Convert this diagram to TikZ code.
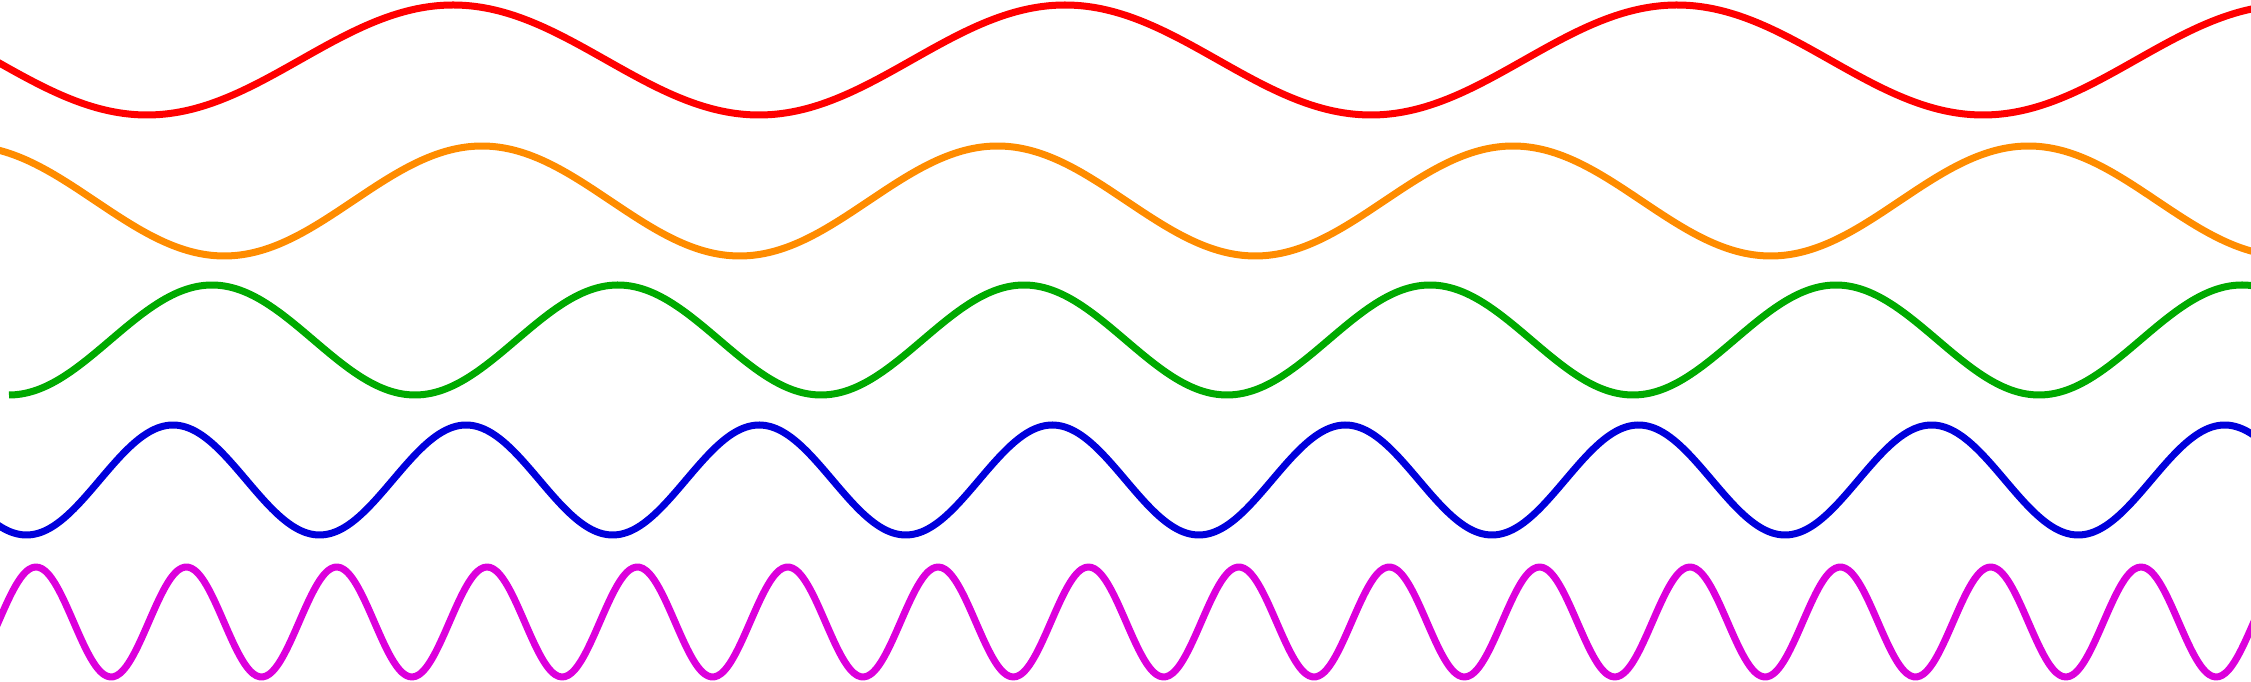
\documentclass[tikz,border=0pt]{standalone}
\definecolor{wred}{RGB}{255,0,0}
\definecolor{worange}{RGB}{255,140,0}
\definecolor{wgreen}{RGB}{0,170,0}
\definecolor{wblue}{RGB}{0,0,220}
\definecolor{wmagenta}{RGB}{220,0,220}
\tikzset{wave/.style={line width=0.07cm, line join=round}}
\begin{document}
\begin{tikzpicture}[x=0.01cm,y=0.01cm]
\useasboundingbox (0,0) rectangle (2251,682);
\clip (0,0) rectangle (2251,682);
% red: peaks at x=453, period 612, centre y=60 (from top), amplitude 55
\draw[wave, wred] plot[domain=-10:2261, samples=300, smooth]
  (\x, {682-(60-55*cos(((\x-453)/612)*360))});
% orange
\draw[wave, worange] plot[domain=-10:2261, samples=300, smooth]
  (\x, {682-(201-55*cos(((\x-482)/515.5)*360))});
% green (starts at a trough)
\draw[wave, wgreen] plot[domain=9:2261, samples=360, smooth]
  (\x, {682-(340-55*cos(((\x-212)/406)*360))});
% blue
\draw[wave, wblue] plot[domain=-10:2261, samples=420, smooth]
  (\x, {682-(480-55*cos(((\x-173)/293.1)*360))});
% magenta
\draw[wave, wmagenta] plot[domain=-10:2261, samples=700, smooth]
  (\x, {682-(622-55*cos(((\x-36)/150.36)*360))});
\end{tikzpicture}
\end{document}
